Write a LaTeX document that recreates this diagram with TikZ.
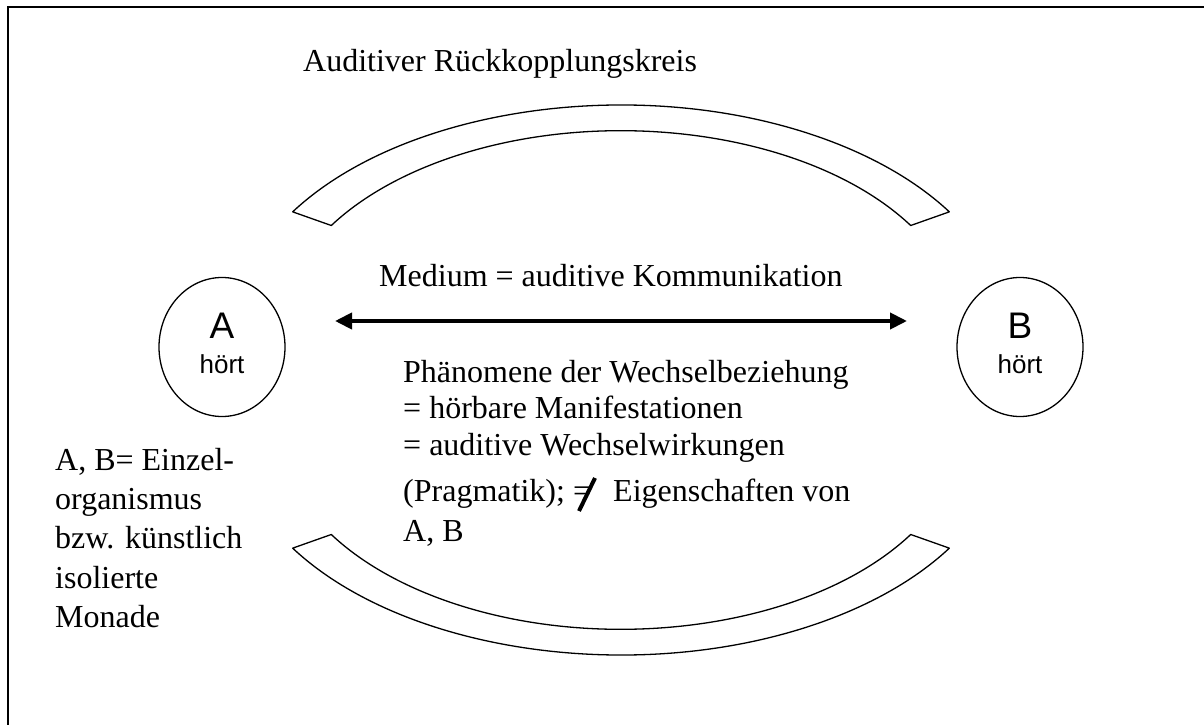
\documentclass[tikz,border=0pt]{standalone}
\usepackage{fontspec}
\setmainfont{Liberation Serif}
\newfontfamily\sansf{Liberation Sans}
\usetikzlibrary{arrows.meta,shapes.geometric}
\begin{document}
\begin{tikzpicture}[x=1pt,y=1pt,
  txt/.style={inner sep=0pt, anchor=base west, font=\fontsize{32}{37}\selectfont},
  band/.style={draw=black, line width=1.3pt, line join=round},
  person/.style={draw=black, line width=1.3pt, ellipse, minimum width=126pt, minimum height=139pt, inner sep=0pt},
  big/.style={inner sep=0pt, anchor=base, font=\sansf\fontsize{37}{40}\selectfont},
  small/.style={inner sep=0pt, anchor=base, font=\sansf\fontsize{26}{28}\selectfont},
  link/.style={line width=4pt, {Triangle[length=17pt,width=16pt]}-{Triangle[length=17pt,width=16pt]}}
]
\useasboundingbox (0,0) rectangle (1204,724);
\clip (0,0) rectangle (1204,724);
\fill[white] (0,0) rectangle (1204,724);
% outer frame
\draw[line width=2pt] (8,-20) rectangle (1240,717);

% feedback bands
\draw[band] ([shift={(621,391)}]147.9:387.6 and 228)
  arc[start angle=147.9, end angle=32.1, x radius=387.6, y radius=228]
  -- ([shift={(621,391)}]32.1:342 and 202.3)
  arc[start angle=32.1, end angle=147.9, x radius=342, y radius=202.3] -- cycle;
\draw[band] ([shift={(621,297)}]212.1:387.6 and 228)
  arc[start angle=212.1, end angle=327.9, x radius=387.6, y radius=228]
  -- ([shift={(621,297)}]327.9:342 and 202.3)
  arc[start angle=327.9, end angle=212.1, x radius=342, y radius=202.3] -- cycle;

% participants
\node[person] (A) at (222,377) {};
\node[big] (Aname) at (222,386) {A};
\node[small] (Ahear) at (222,351) {hört};
\node[person] (B) at (1020,377) {};
\node[big] (Bname) at (1020,386) {B};
\node[small] (Bhear) at (1020,351) {hört};

\coordinate (la) at (335,403);
\coordinate (lb) at (907,403);
\draw[link] (la) -- (lb);

% labels
\node[txt] (title) at (303,652) {Auditiver Rückkopplungskreis};
\node[txt] (medium) at (379,437) {Medium = auditive Kommunikation};

\node[txt] (p1) at (403,342) {Phänomene der Wechselbeziehung};
\node[txt] (p2) at (403,305.5) {= hörbare Manifestationen};
\node[txt] (p3) at (403,269) {= auditive Wechselwirkungen};
\node[txt] (p4) at (403,223) {(Pragmatik);};
\node[txt] (neq) at (573,223) {=};
\draw[line width=4pt] ([xshift=6pt,yshift=-10pt]neq.base west) -- ([xshift=22pt,yshift=23pt]neq.base west);
\node[txt] (p4b) at (613,223) {Eigenschaften von};
\node[txt] (p5) at (403,183) {A, B};

\node[txt] (m1) at (55,254) {A, B= Einzel-};
\node[txt] (m2) at (55,215) {organismus};
\node[txt] (m3) at (55,175.5) {bzw. künstlich};
\node[txt] (m4) at (55,136) {isolierte};
\node[txt] (m5) at (55,97) {Monade};
\end{tikzpicture}
\end{document}
